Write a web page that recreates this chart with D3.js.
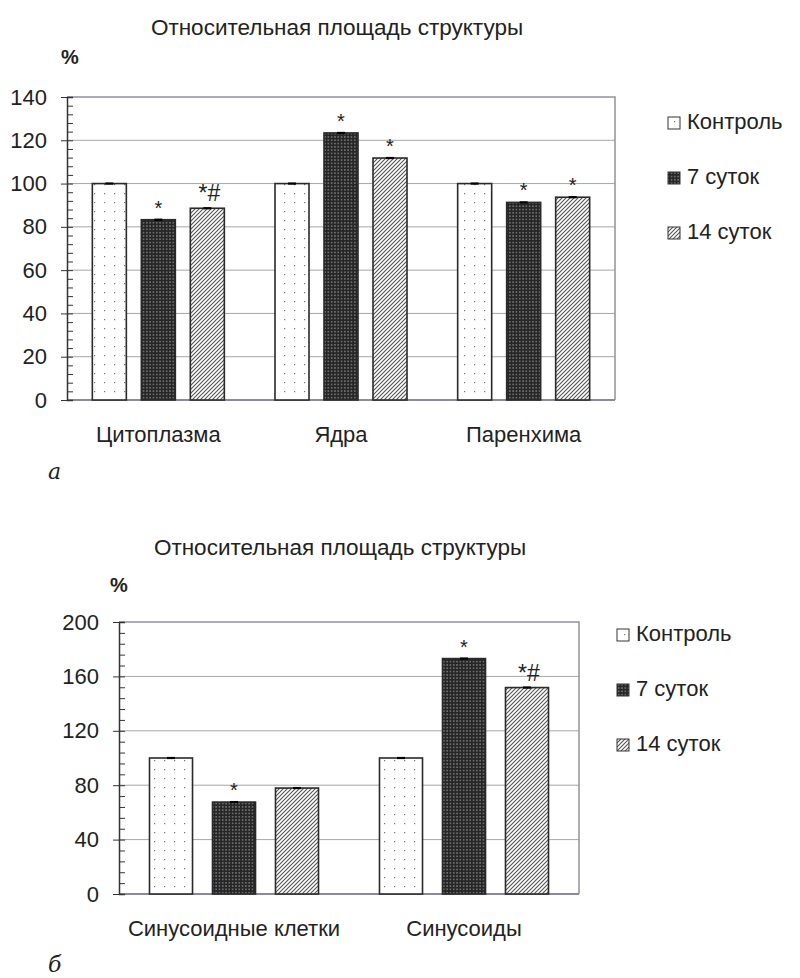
<!DOCTYPE html>
<html>
<head>
<meta charset="utf-8">
<script src="https://cdn.jsdelivr.net/npm/d3@7/dist/d3.min.js"></script>
<style>
  html, body { margin: 0; padding: 0; background: #fff; }
  svg { display: block; }
  text { font-family: "Liberation Sans", Arial, sans-serif; fill: #222; }
</style>
</head>
<body>
<svg id="chart" width="800" height="978"></svg>
<script>
// ---- data ----
const seriesNames = ["Контроль", "7 суток", "14 суток"];

const categoriesA = ["Цитоплазма", "Ядра", "Паренхима"];
const controlA = [100, 100, 100];
const day7A = [83.3, 123.4, 91.3];
const day14A = [88.6, 111.8, 93.7];
const marksA7 = ["*", "*", "*"];
const marksA14 = ["*#", "*", "*"];
const yTicksA = [0, 20, 40, 60, 80, 100, 120, 140];

const categoriesB = ["Синусоидные клетки", "Синусоиды"];
const controlB = [100, 100];
const day7B = [67.6, 173.1];
const day14B = [77.9, 151.8];
const marksB7 = ["*", "*"];
const marksB14 = ["", "*#"];
const yTicksB = [0, 40, 80, 120, 160, 200];

const titleText = "Относительная площадь структуры";

const FS = 22; // base font size

const svg = d3.select("#chart");
const defs = svg.append("defs");

// ---- fill patterns ----
// sparse dots on white
const pDots = defs.append("pattern").attr("id", "pat-ctrl")
  .attr("patternUnits", "userSpaceOnUse").attr("width", 10).attr("height", 9);
pDots.append("rect").attr("width", 10).attr("height", 9).attr("fill", "#fff");
pDots.append("rect").attr("x", 4).attr("y", 4).attr("width", 1.2).attr("height", 1.2).attr("fill", "#777");

// dark fill with fine light dots
const pDark = defs.append("pattern").attr("id", "pat-7")
  .attr("patternUnits", "userSpaceOnUse").attr("width", 3.3).attr("height", 3.3);
pDark.append("rect").attr("width", 3.3).attr("height", 3.3).attr("fill", "#262626");
pDark.append("rect").attr("x", 1.1).attr("y", 1.1).attr("width", 1.1).attr("height", 1.1).attr("fill", "#c4c4c4");

// diagonal hatch
const pHatch = defs.append("pattern").attr("id", "pat-14")
  .attr("patternUnits", "userSpaceOnUse").attr("width", 4).attr("height", 4);
pHatch.append("rect").attr("width", 4).attr("height", 4).attr("fill", "#fff");
pHatch.append("path").attr("d", "M-1,1 L1,-1 M0,4 L4,0 M3,5 L5,3")
  .attr("stroke", "#555").attr("stroke-width", 1.1);

const fills = ["url(#pat-ctrl)", "url(#pat-7)", "url(#pat-14)"];

function drawChart(cfg) {
  const g = svg.append("g");
  const { left, right, top, bottom } = cfg.plot;

  const y = d3.scaleLinear().domain([0, cfg.yMax]).range([bottom, top]);
  const x0 = d3.scaleBand().domain(cfg.categories).range([left, right]).padding(0);
  const x1 = d3.scaleBand().domain(seriesNames).range([0, x0.bandwidth()])
    .paddingInner(cfg.padInner).paddingOuter(cfg.padOuter);

  // gridlines
  g.append("g").selectAll("line").data(cfg.yTicks.filter(d => d > 0 && d < cfg.yMax))
    .join("line")
    .attr("x1", left).attr("x2", right)
    .attr("y1", d => y(d)).attr("y2", d => y(d))
    .attr("stroke", "#a6a6a6").attr("stroke-width", 1);

  // frame: top and right
  g.append("path")
    .attr("d", `M${left},${top} H${right} V${bottom}`)
    .attr("fill", "none").attr("stroke", "#9090a4").attr("stroke-width", 1.5);
  // baseline
  g.append("line").attr("x1", left).attr("x2", right)
    .attr("y1", bottom).attr("y2", bottom)
    .attr("stroke", "#8a8a9c").attr("stroke-width", 2);

  // bars
  const seriesValues = [cfg.control, cfg.day7, cfg.day14];
  const rows = [];
  cfg.categories.forEach((c, i) => {
    seriesNames.forEach((s, j) => {
      rows.push({ cat: c, series: s, j, value: seriesValues[j][i],
        mark: j === 1 ? cfg.marks7[i] : j === 2 ? cfg.marks14[i] : "" });
    });
  });

  const bars = g.append("g");
  bars.selectAll("rect").data(rows).join("rect")
    .attr("x", d => x0(d.cat) + x1(d.series))
    .attr("y", d => y(d.value))
    .attr("width", x1.bandwidth())
    .attr("height", d => y(0) - y(d.value))
    .attr("fill", d => fills[d.j])
    .attr("stroke", "#2a2a2a").attr("stroke-width", 1.6);

  // small error caps
  bars.selectAll("line.cap").data(rows).join("line").attr("class", "cap")
    .attr("x1", d => x0(d.cat) + x1(d.series) + x1.bandwidth() / 2 - 4)
    .attr("x2", d => x0(d.cat) + x1(d.series) + x1.bandwidth() / 2 + 4)
    .attr("y1", d => y(d.value)).attr("y2", d => y(d.value))
    .attr("stroke", "#000").attr("stroke-width", 2.2);

  // significance marks
  bars.selectAll("text").data(rows.filter(d => d.mark)).join("text")
    .attr("x", d => x0(d.cat) + x1(d.series) + x1.bandwidth() / 2 + (d.mark.length > 1 ? 2 : 0))
    .attr("y", d => y(d.value) - (d.mark.length > 1 ? 7 : 5))
    .attr("text-anchor", "middle")
    .attr("font-size", d => d.mark.length > 1 ? 23 : 20)
    .text(d => d.mark);

  // y axis: labels with outer ticks
  const axL = d3.axisLeft(y).tickValues(cfg.yTicks).tickSize(6).tickPadding(14).tickFormat(d3.format("d"));
  const ga = g.append("g").attr("transform", `translate(${left},0)`).call(axL);
  ga.select(".domain").remove();
  ga.selectAll("line").attr("stroke", "#333");
  ga.selectAll("text").attr("font-size", FS).attr("fill", "#222")
    .style("font-family", "'Liberation Sans', Arial, sans-serif");

  // inner minor ticks
  const minor = d3.range(0, cfg.yMax + 0.001, cfg.minorStep);
  const axR = d3.axisRight(y).tickValues(minor).tickSize(6).tickFormat("");
  const gm = g.append("g").attr("transform", `translate(${left},0)`).call(axR);
  gm.select(".domain").attr("stroke", "#333").attr("stroke-width", 1.5);
  gm.selectAll("line").attr("stroke", "#333");

  // category labels
  g.append("g").selectAll("text").data(cfg.categories).join("text")
    .attr("x", d => x0(d) + x0.bandwidth() / 2)
    .attr("y", cfg.catY)
    .attr("text-anchor", "middle").attr("font-size", FS)
    .text(d => d);

  // title and unit
  g.append("text").attr("x", cfg.titleX).attr("y", cfg.titleY)
    .attr("text-anchor", "middle").attr("font-size", 22.5).text(titleText);
  g.append("text").attr("x", cfg.pctX).attr("y", cfg.pctY)
    .attr("font-size", 20).attr("font-weight", "bold").text("%");

  // legend
  const lg = g.append("g");
  seriesNames.forEach((s, j) => {
    const ly = cfg.legend.y + j * cfg.legend.step;
    lg.append("rect").attr("x", cfg.legend.x).attr("y", ly - 12)
      .attr("width", 12).attr("height", 12)
      .attr("fill", fills[j]).attr("stroke", "#333").attr("stroke-width", 1);
    lg.append("text").attr("x", cfg.legend.x + 19).attr("y", ly)
      .attr("font-size", FS).text(s);
  });

  // panel letter
  g.append("text").attr("x", cfg.letter.x).attr("y", cfg.letter.y)
    .attr("font-size", 22).attr("font-style", "italic")
    .style("font-family", "'DejaVu Serif', 'Liberation Serif', serif")
    .text(cfg.letter.t);
}

drawChart({
  categories: categoriesA, control: controlA, day7: day7A, day14: day14A,
  marks7: marksA7, marks14: marksA14, yTicks: yTicksA, yMax: 140, minorStep: 4,
  plot: { left: 67, right: 615, top: 97, bottom: 400 },
  padInner: 0.306, padOuter: 0.517,
  catY: 442, titleX: 337, titleY: 35, pctX: 61, pctY: 64,
  legend: { x: 668, y: 129, step: 55 },
  letter: { x: 48, y: 479, t: "а" }
});

drawChart({
  categories: categoriesB, control: controlB, day7: day7B, day14: day14B,
  marks7: marksB7, marks14: marksB14, yTicks: yTicksB, yMax: 200, minorStep: 8,
  plot: { left: 119, right: 579, top: 622, bottom: 894 },
  padInner: 0.317, padOuter: 0.484,
  catY: 936, titleX: 340, titleY: 555, pctX: 110, pctY: 592,
  legend: { x: 617, y: 641, step: 55 },
  letter: { x: 48, y: 972, t: "б" }
});
</script>
</body>
</html>
